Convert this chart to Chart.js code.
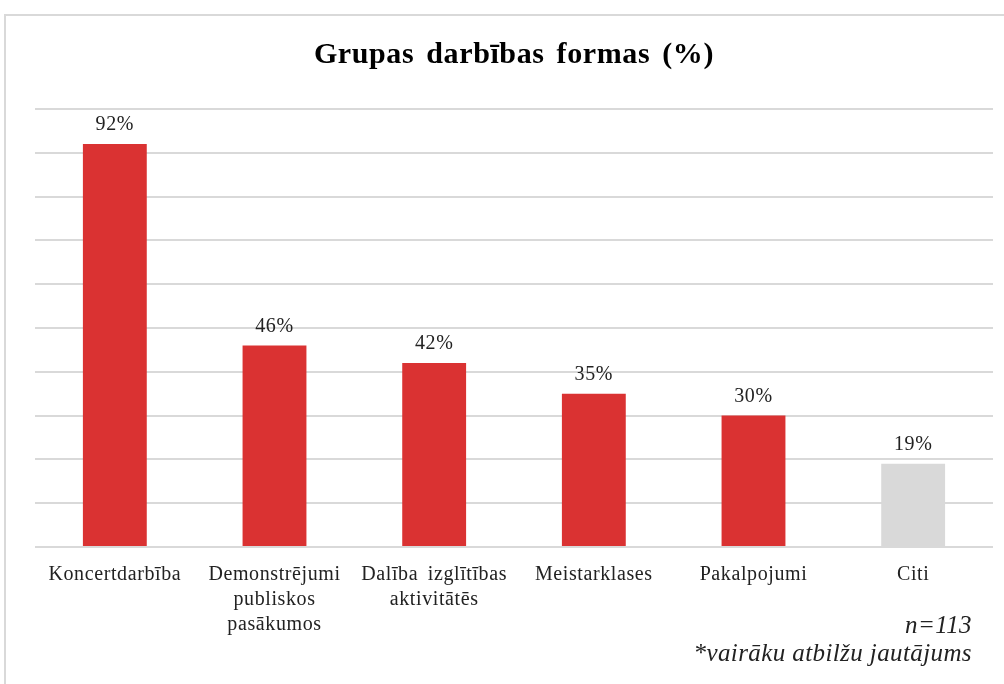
<!DOCTYPE html>
<html>
<head>
<meta charset="utf-8">
<script src="https://cdn.jsdelivr.net/npm/chart.js@4/dist/chart.umd.min.js"></script>
<style>
  html, body { margin: 0; padding: 0; background: #fff; }
  #wrap { width: 1004px; height: 684px; position: relative; }
</style>
</head>
<body>
<div id="wrap"><canvas id="grafiks"></canvas></div>
<script>
// dati
const kategorijas = [
  "Koncertdarbība",
  ["Demonstrējumi", "publiskos", "pasākumos"],
  ["Dalība izglītības", "aktivitātēs"],
  "Meistarklases",
  "Pakalpojumi",
  "Citi"
];
const vertibas = [92, 46, 42, 35, 30, 19];
const krasas = ["#da3232", "#da3232", "#da3232", "#da3232", "#da3232", "#d9d9d9"];
const piezimes = ["n=113", "*vairāku atbilžu jautājums"];

const fonts = "'Liberation Serif', 'Times New Roman', serif";

// ramis, vertibu etiketes un piezimes
const zimejumi = {
  id: "zimejumi",
  beforeDraw(chart) {
    const ctx = chart.ctx;
    ctx.save();
    ctx.fillStyle = "#fff";
    ctx.fillRect(0, 0, chart.width, chart.height);
    ctx.strokeStyle = "#d9d9d9";
    ctx.lineWidth = 2;
    ctx.strokeRect(5, 15, chart.width + 10, chart.height + 10);
    ctx.restore();
    // Word teksts ir mazliet izretināts
    ctx.letterSpacing = "0.6px";
    ctx.wordSpacing = "4px";
  },
  afterDatasetsDraw(chart) {
    const ctx = chart.ctx;
    const meta = chart.getDatasetMeta(0);
    ctx.save();
    ctx.wordSpacing = "0px";
    ctx.fillStyle = "#222";
    ctx.font = "20px " + fonts;
    ctx.textAlign = "center";
    ctx.textBaseline = "alphabetic";
    meta.data.forEach(function (bar, i) {
      ctx.fillText(vertibas[i] + "%", bar.x, bar.y - 14);
    });
    ctx.restore();
  },
  afterDraw(chart) {
    const ctx = chart.ctx;
    ctx.save();
    ctx.wordSpacing = "0px";
    ctx.letterSpacing = "0.4px";
    ctx.fillStyle = "#222";
    ctx.font = "italic 25px " + fonts;
    ctx.textAlign = "right";
    ctx.textBaseline = "alphabetic";
    ctx.fillText(piezimes[0], 972, 633);
    ctx.fillText(piezimes[1], 972, 661);
    ctx.restore();
  }
};

new Chart(document.getElementById("grafiks"), {
  type: "bar",
  data: {
    labels: kategorijas,
    datasets: [{
      label: "Grupas darbības formas",
      data: vertibas,
      backgroundColor: krasas,
      borderWidth: 0,
      barPercentage: 0.4,
      categoryPercentage: 1
    }]
  },
  options: {
    responsive: true,
    maintainAspectRatio: false,
    animation: false,
    layout: { padding: { left: 35, right: 11, top: 0, bottom: 32 } },
    plugins: {
      legend: { display: false },
      tooltip: { enabled: false },
      title: {
        display: true,
        text: "Grupas darbības formas (%)",
        color: "#000",
        font: { family: fonts, size: 30, weight: "bold" },
        padding: { top: 37, bottom: 36 }
      }
    },
    scales: {
      x: {
        grid: { display: false, drawTicks: false },
        border: { display: false },
        ticks: {
          color: "#222",
          font: { family: fonts, size: 20, lineHeight: 1.25 },
          padding: 15,
          maxRotation: 0,
          autoSkip: false
        }
      },
      y: {
        min: 0,
        max: 100,
        ticks: { display: false, stepSize: 10 },
        border: { display: false },
        grid: { color: "#d9d9d9", lineWidth: 2, drawTicks: false }
      }
    }
  },
  plugins: [zimejumi]
});
</script>
</body>
</html>
